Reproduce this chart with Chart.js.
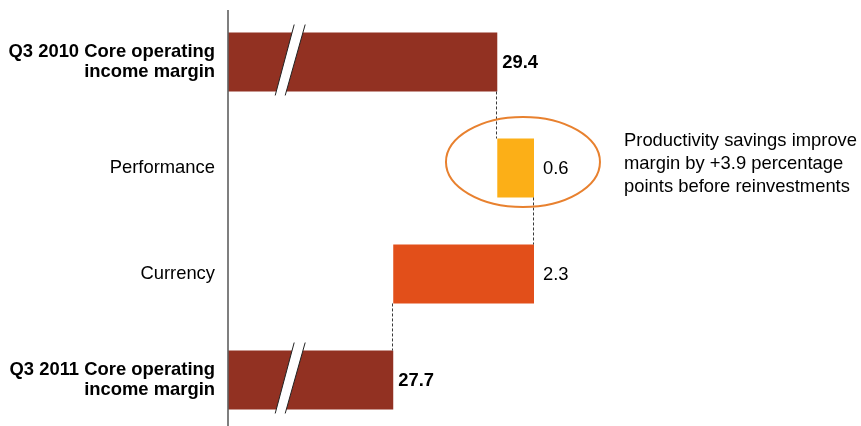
<!DOCTYPE html>
<html>
<head>
<meta charset="utf-8">
<script src="https://cdn.jsdelivr.net/npm/chart.js@4"></script>
<style>
  html, body { margin: 0; padding: 0; background: #fff; overflow: hidden; }
  #wrap { position: relative; width: 861px; height: 433px; }
</style>
</head>
<body>
<div id="wrap"><canvas id="bridgeChart"></canvas></div>
<script>
var categories = [
  ["Q3 2010 Core operating", "income margin"],
  "Performance",
  "Currency",
  ["Q3 2011 Core operating", "income margin"]
];
var barStart = [25, 29.4, 27.7, 25];
var barEnd = [29.4, 30.0, 30.0, 27.7];
var valueLabels = ["29.4", "0.6", "2.3", "27.7"];
var boldRows = [true, false, false, true];
var barColors = ["#923122", "#FCAF17", "#E24F1A", "#923122"];
var brokenRows = [0, 3];
var noteLines = [
  "Productivity savings improve",
  "margin by +3.9 percentage",
  "points before reinvestments"
];

var fontFamily = "'Liberation Sans', Arial, sans-serif";
var fontSize = 18.4;

// everything the library does not draw: axis line, labels, connectors, breaks, callout
var extras = {
  id: "extras",
  afterDatasetsDraw: function(chart) {
    var ctx = chart.ctx;
    var x = chart.scales.x;
    var area = chart.chartArea;
    var bars = chart.getDatasetMeta(0).data;

    ctx.save();

    // axis line
    ctx.strokeStyle = "#5f5f5f";
    ctx.lineWidth = 1.6;
    ctx.beginPath();
    ctx.moveTo(area.left, area.top + 1);
    ctx.lineTo(area.left, chart.height);
    ctx.stroke();

    // dashed connectors
    ctx.strokeStyle = "#3a3a3a";
    ctx.lineWidth = 1;
    ctx.setLineDash([3, 2]);
    var joins = [barEnd[0], barEnd[1], barStart[2]];
    for (var i = 0; i < joins.length; i++) {
      var jx = Math.round(x.getPixelForValue(joins[i])) - 0.5;
      var b1 = bars[i], b2 = bars[i + 1];
      ctx.beginPath();
      ctx.moveTo(jx, b1.y + b1.height / 2);
      ctx.lineTo(jx, b2.y - b2.height / 2);
      ctx.stroke();
    }
    ctx.setLineDash([]);

    // axis break marks on the total bars
    brokenRows.forEach(function(r) {
      var b = bars[r];
      var mid = x.getPixelForValue(26.0);
      var top = b.y - b.height / 2 - 8;
      var bot = b.y + b.height / 2 + 4;
      ctx.fillStyle = "#ffffff";
      ctx.beginPath();
      ctx.moveTo(mid + 5, top);
      ctx.lineTo(mid + 16, top);
      ctx.lineTo(mid - 4, bot);
      ctx.lineTo(mid - 14, bot);
      ctx.closePath();
      ctx.fill();
      ctx.strokeStyle = "#222222";
      ctx.lineWidth = 1;
      ctx.beginPath();
      ctx.moveTo(mid + 5, top);
      ctx.lineTo(mid - 14, bot);
      ctx.moveTo(mid + 16, top);
      ctx.lineTo(mid - 4, bot);
      ctx.stroke();
    });

    // value labels
    ctx.fillStyle = "#000000";
    ctx.textBaseline = "middle";
    ctx.textAlign = "left";
    for (var k = 0; k < bars.length; k++) {
      var bx = x.getPixelForValue(barEnd[k]);
      var gap = boldRows[k] ? 5 : 9;
      ctx.font = (boldRows[k] ? "bold " : "") + fontSize + "px " + fontFamily;
      ctx.fillText(valueLabels[k], bx + gap, bars[k].y + 1);
    }

    // callout ellipse around the performance step
    var py = bars[1].y;
    ctx.strokeStyle = "#E8812F";
    ctx.lineWidth = 2;
    ctx.beginPath();
    ctx.ellipse(x.getPixelForValue(29.82), py - 6, 77, 45, 0, 0, Math.PI * 2);
    ctx.stroke();

    // note text
    ctx.font = fontSize + "px " + fontFamily;
    ctx.fillStyle = "#000000";
    for (var n = 0; n < noteLines.length; n++) {
      ctx.fillText(noteLines[n], 624, py - 27 + n * 23);
    }

    ctx.restore();
  }
};

new Chart("bridgeChart", {
  type: "bar",
  data: {
    labels: categories,
    datasets: [{
      data: barStart.map(function(s, i) { return [s, barEnd[i]]; }),
      backgroundColor: barColors,
      borderWidth: 0,
      barPercentage: 0.556,
      categoryPercentage: 1
    }]
  },
  options: {
    indexAxis: "y",
    responsive: true,
    maintainAspectRatio: false,
    animation: false,
    layout: { padding: { top: 9, right: 21, bottom: 0, left: 0 } },
    plugins: {
      legend: { display: false },
      tooltip: { enabled: false }
    },
    scales: {
      x: {
        display: false,
        min: 25,
        max: 35
      },
      y: {
        grid: { display: false, drawTicks: false },
        border: { display: false },
        afterFit: function(scale) {
          scale.width = 228;
          scale.paddingTop = 0;
          scale.paddingBottom = 0;
        },
        ticks: {
          color: "#000000",
          padding: 13,
          font: function(ctx) {
            return {
              family: fontFamily,
              size: fontSize,
              lineHeight: 1.1,
              weight: boldRows[ctx.index] ? "bold" : "normal"
            };
          }
        }
      }
    }
  },
  plugins: [extras]
});
</script>
</body>
</html>
